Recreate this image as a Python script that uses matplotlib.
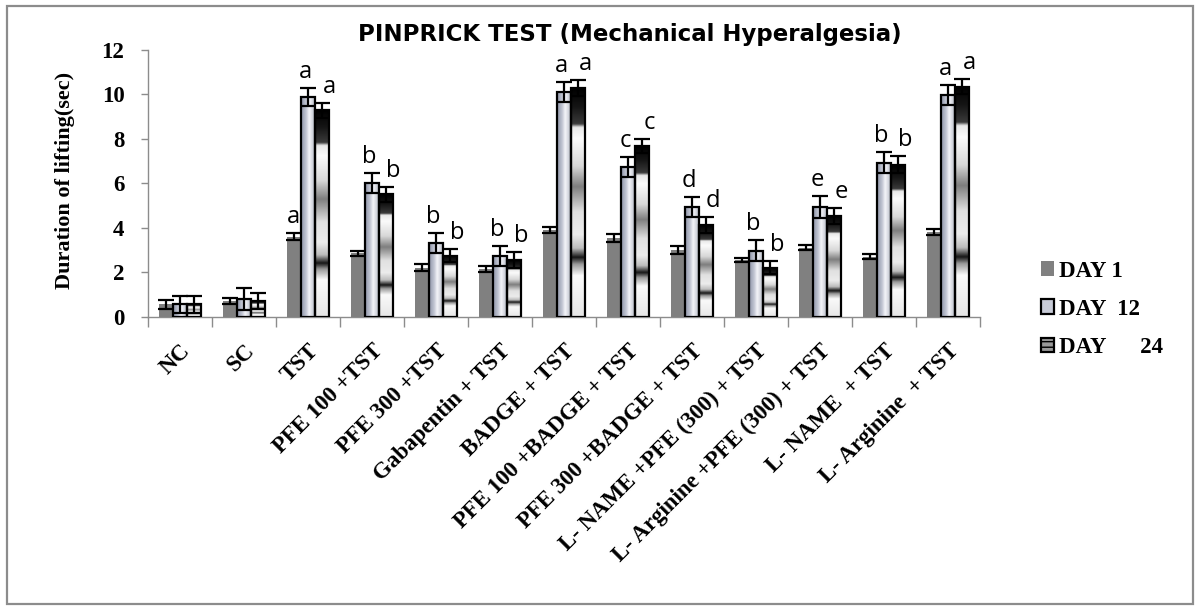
import numpy as np
import matplotlib
matplotlib.use('Agg')
import matplotlib.pyplot as plt
from matplotlib.colors import LinearSegmentedColormap
from matplotlib.patches import Rectangle, Patch

# ---------------- data ----------------
groups = ['NC', 'SC', 'TST', 'PFE 100 +TST', 'PFE 300 +TST', 'Gabapentin + TST',
          'BADGE + TST', 'PFE 100 +BADGE + TST', 'PFE 300 +BADGE + TST',
          'L- NAME +PFE (300) + TST', 'L- Arginine +PFE (300) + TST',
          'L- NAME  + TST', 'L- Arginine  + TST']
series_names = ['DAY 1', 'DAY  12', 'DAY      24']

day1 = [0.55, 0.7, 3.6, 2.85, 2.2, 2.15, 3.9, 3.55, 3.0, 2.55, 3.1, 2.7, 3.8]
day1_err = [0.2, 0.12, 0.15, 0.12, 0.15, 0.12, 0.12, 0.17, 0.17, 0.1, 0.12, 0.12, 0.13]
day12 = [0.55, 0.8, 9.88, 6.0, 3.33, 2.73, 10.09, 6.75, 4.92, 2.97, 4.92, 6.93, 9.98]
day12_err = [0.4, 0.5, 0.4, 0.45, 0.45, 0.45, 0.45, 0.45, 0.45, 0.48, 0.5, 0.47, 0.45]
day24 = [0.55, 0.7, 9.28, 5.5, 2.75, 2.55, 10.28, 7.68, 4.13, 2.2, 4.53, 6.83, 10.35]
day24_err = [0.38, 0.35, 0.35, 0.35, 0.3, 0.35, 0.35, 0.33, 0.37, 0.3, 0.35, 0.38, 0.33]

day1_sig = ['', '', 'a', '', '', '', '', '', '', '', '', '', '']
day12_sig = ['', '', 'a', 'b', 'b', 'b', 'a', 'c', 'd', 'b', 'e', 'b', 'a']
day24_sig = ['', '', 'a', 'b', 'b', 'b', 'a', 'c', 'd', 'b', 'e', 'b', 'a']

title = 'PINPRICK TEST (Mechanical Hyperalgesia)'
ylabel = 'Duration of lifting(sec)'

# ---------------- style ----------------
serif = 'Liberation Serif'
W, H = 1200, 610
fig = plt.figure(figsize=(W / 100, H / 100), dpi=100)
ax = fig.add_axes([148 / W, 1 - 316.7 / H, 832 / W, 266.7 / H])

fig.patches.append(Rectangle((7 / W, 6 / H), 1186 / W, 598 / H, transform=fig.transFigure,
                             fill=False, edgecolor='#8c8c8c', lw=1.6))

x = np.arange(len(groups))
bw = 0.22
gray_axis = '#8c8c8c'

cm12 = LinearSegmentedColormap.from_list('d12', [
    (0.0, '#8e94a8'), (0.35, '#c3c7d4'), (0.55, '#f4f5f9'), (0.75, '#d6d8e0'), (1.0, '#a9adba')])
cm24 = LinearSegmentedColormap.from_list('d24', [
    (0.0, '#e6e6e6'), (0.18, '#fafafa'), (0.23, '#9a9a9a'), (0.26, '#151515'), (0.30, '#bdbdbd'),
    (0.36, '#ececec'), (0.46, '#e0e0e0'), (0.57, '#7e7e7e'), (0.66, '#d8d8d8'), (0.78, '#fbfbfb'),
    (0.83, '#e8e8e8'), (0.845, '#3a3a3a'), (0.92, '#151515'), (1.0, '#000000')])

# Day 1 bars
ax.bar(x - bw, day1, bw, color='#808080', zorder=3)

# Day 12 & Day 24 bars with gradient fills
b12 = ax.bar(x, day12, bw, facecolor='none', edgecolor='black', lw=1.6, zorder=4)
b24 = ax.bar(x + bw, day24, bw, facecolor='none', edgecolor='black', lw=1.6, zorder=4)

u = np.linspace(0, 1, 64)
img12 = cm12(np.tile(u, (64, 1)))
v = np.linspace(0, 1, 256)[:, None]
img24 = cm24(np.tile(v, (1, 8)))
for bars, img in ((b12, img12), (b24, img24)):
    for p in bars.patches:
        x0 = p.get_x()
        im = ax.imshow(img, extent=[x0, x0 + p.get_width(), 0, p.get_height()],
                       origin='lower', aspect='auto', zorder=2.5, interpolation='bilinear')
        im.set_clip_path(p)

# error bars
ekw = dict(fmt='none', ecolor='black', elinewidth=1.6, capsize=5.5, capthick=1.6, zorder=5)
ax.errorbar(x - bw, day1, yerr=day1_err, **ekw)
ax.errorbar(x, day12, yerr=day12_err, **ekw)
ax.errorbar(x + bw, day24, yerr=day24_err, **ekw)

# significance letters
for off, shift, vals, errs, sig in ((-bw, 0, day1, day1_err, day1_sig),
                                    (0, -2, day12, day12_err, day12_sig),
                                    (bw, 5, day24, day24_err, day24_sig)):
    for i in range(len(groups)):
        if sig[i]:
            ax.annotate(sig[i], (x[i] + off, vals[i] + errs[i]), xytext=(shift, 3),
                        textcoords='offset points', ha='center', va='bottom',
                        fontsize=17, family='Open Sans', zorder=6)

# axes
ax.set_xlim(-0.5, len(groups) - 0.5)
ax.set_ylim(0, 12)
ax.set_yticks(range(0, 13, 2))
ax.set_yticklabels([str(t) for t in range(0, 13, 2)], family=serif, weight='bold', fontsize=16.5)
ax.set_xticks(x)
ax.set_xticklabels(groups, family=serif, weight='bold', fontsize=16.5, rotation=45,
                   ha='right', rotation_mode='anchor')
ax.set_xticks(np.arange(-0.5, len(groups), 1), minor=True)
ax.tick_params(axis='x', which='major', length=0, pad=17)
ax.tick_params(axis='x', which='minor', length=7, color=gray_axis, width=1)
ax.tick_params(axis='y', length=5, color=gray_axis, width=1, pad=12)
for s in ('top', 'right'):
    ax.spines[s].set_visible(False)
for s in ('left', 'bottom'):
    ax.spines[s].set_color(gray_axis)
    ax.spines[s].set_linewidth(1)

ax.set_ylabel(ylabel, family=serif, weight='bold', fontsize=16)
ax.yaxis.set_label_coords((75 - 148) / 832, (316.7 - 180) / 266.7)
fig.text(630 / W, 1 - 35 / H, title, ha='center', va='center', family='DejaVu Sans',
         weight='bold', fontsize=16.5)

handles = [Patch(facecolor='#808080', edgecolor='none'),
           Patch(facecolor='#c8ccd8', edgecolor='black', lw=1.6),
           Patch(facecolor='#9a9a9a', edgecolor='black', lw=1.6, hatch='---')]
leg = fig.legend(handles, series_names, loc='upper left', bbox_to_anchor=(1020 / W, 1 - 240 / H),
                 frameon=False, prop=dict(family=serif, weight='bold', size=16.5),
                 handlelength=0.6, handleheight=0.6, handletextpad=0.2, labelspacing=0.75)

fig.savefig('out.png', dpi=100)
